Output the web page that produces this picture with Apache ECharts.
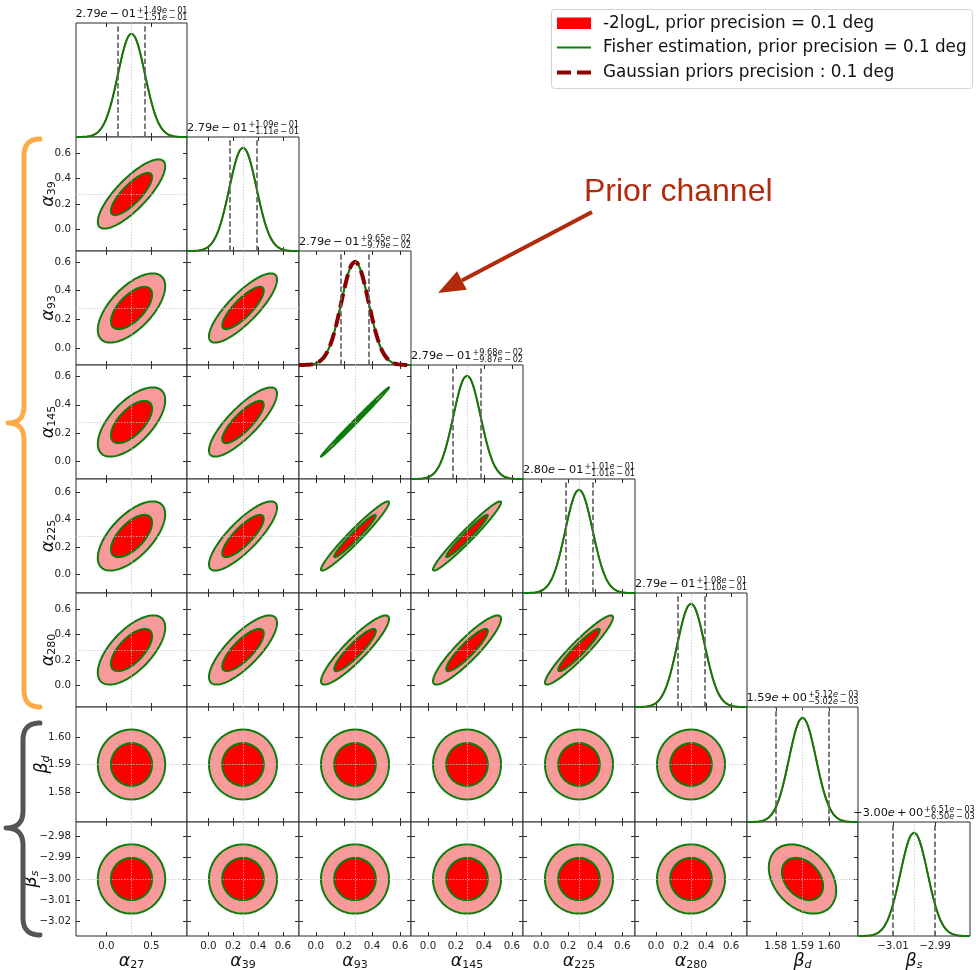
<!DOCTYPE html>
<html>
<head>
<meta charset="utf-8">
<script src="https://cdn.jsdelivr.net/npm/echarts@6/dist/echarts.min.js"></script>
<style>
  html, body { margin: 0; padding: 0; background: #fff; }
  #chart { width: 976px; height: 970px; }
</style>
</head>
<body>
<div id="chart"></div>
<script>
// ---- Parameters of the corner plot ----
const paramSymbols = ['α', 'α', 'α', 'α', 'α', 'α', 'β', 'β'];
const paramSubs = ['27', '39', '93', '145', '225', '280', 'd', 's'];
const subItalic = [false, false, false, false, false, false, true, true];

// Posterior medians and asymmetric 1-sigma errors
const medians  = [0.279, 0.279, 0.279, 0.279, 0.280, 0.279, 1.59, -3.00];
const errPlus  = [0.149, 0.109, 0.0965, 0.0968, 0.101, 0.108, 0.00512, 0.00651];
const errMinus = [0.151, 0.111, 0.0979, 0.0987, 0.101, 0.110, 0.00502, 0.00650];

// Fiducial values (dotted guide lines)
const truths = [0.28, 0.28, 0.28, 0.28, 0.28, 0.28, 1.59, -3.00];

// Correlation coefficients, lower triangle: row i holds corr(i, 0..i-1)
const corrRows = [
  [],
  [0.80],
  [0.63, 0.82],
  [0.63, 0.82, 0.997],
  [0.63, 0.82, 0.965, 0.97],
  [0.65, 0.78, 0.90, 0.90, 0.94],
  [0, 0, 0, 0, 0, 0],
  [0, 0, 0, 0, 0, 0, -0.33]
];

// Channel carrying the Gaussian prior
const priorChannel = 2;

// 2D contour radii in sigma units (68% and 95% for two parameters)
const contourRadii = [1.52, 2.49];

// Tick positions
const xTickValues = [
  [0, 0.5], [0, 0.2, 0.4, 0.6], [0, 0.2, 0.4, 0.6], [0, 0.2, 0.4, 0.6],
  [0, 0.2, 0.4, 0.6], [0, 0.2, 0.4, 0.6], [1.58, 1.59, 1.60], [-3.01, -2.99]
];
const yTickValues = [
  [0, 0.5], [0, 0.2, 0.4, 0.6], [0, 0.2, 0.4, 0.6], [0, 0.2, 0.4, 0.6],
  [0, 0.2, 0.4, 0.6], [0, 0.2, 0.4, 0.6], [1.58, 1.59, 1.60],
  [-3.02, -3.01, -3.00, -2.99, -2.98]
];
const tickDecimals = [1, 1, 1, 1, 1, 1, 2, 2];

// Legend and annotation texts
const legendLabels = [
  '-2logL, prior precision = 0.1 deg',
  'Fisher estimation, prior precision = 0.1 deg',
  'Gaussian priors precision : 0.1 deg'
];
const annotationText = 'Prior channel';

// ---- Layout ----
const N = 8;
const colEdges = Array.from({ length: N + 1 }, (_, k) => Math.round(75.6 + 111.84 * k));
const rowEdges = Array.from({ length: N + 1 }, (_, k) => Math.round(22.9 + 114.1 * k));
const yLabelX = [48, 48, 48, 48, 48, 48, 42, 31];
const RANGE_SIGMAS = 4.1;
const DIAG_MAX = 1.103;

const GREEN = '#0b7d0b';
const RED = '#ff0000';
const PINK = '#f99a9a';
const SPINE = '#2b2b2b';
const FONT = 'DejaVu Sans';

const sig = medians.map((_, k) => (errPlus[k] + errMinus[k]) / 2);
const lo = k => medians[k] - RANGE_SIGMAS * sig[k];
const hi = k => medians[k] + RANGE_SIGMAS * sig[k];

function tickFormatter(k) {
  return v => {
    const s = Math.abs(v).toFixed(tickDecimals[k]);
    return (v < 0 && Number(s) !== 0 ? '\u2212' : '') + s;
  };
}

const grid = [], xAxis = [], yAxis = [], series = [];

function valueAxis(gridIndex, position, min, max, ticks, labelFmt) {
  return {
    type: 'value', gridIndex, position, min, max,
    axisLine: { show: false, onZero: false },
    splitLine: { show: false },
    axisTick: ticks ? { show: true, inside: true, length: 4,
      lineStyle: { color: SPINE, width: 1 }, customValues: ticks } : { show: false },
    axisLabel: labelFmt ? {
      show: true, customValues: ticks, formatter: labelFmt, margin: 5,
      fontSize: 10.3, color: '#222', fontFamily: FONT
    } : { show: false }
  };
}

function gaussian(k, useAsym) {
  const pts = [];
  const n = 200;
  for (let q = 0; q <= n; q++) {
    const x = lo(k) + (hi(k) - lo(k)) * q / n;
    const s = useAsym ? (x < medians[k] ? errMinus[k] : errPlus[k]) : sig[k];
    pts.push([x, Math.exp(-0.5 * Math.pow((x - medians[k]) / s, 2))]);
  }
  return pts;
}

function addPanel(i, j) {
  const g = grid.length;
  grid.push({
    left: colEdges[j], top: rowEdges[i],
    width: colEdges[j + 1] - colEdges[j], height: rowEdges[i + 1] - rowEdges[i],
    show: true, borderColor: SPINE, borderWidth: 1, backgroundColor: '#fff',
    containLabel: false, outerBoundsMode: 'none'
  });
  const diag = i === j;
  const bottomLabels = i === N - 1 ? tickFormatter(j) : null;
  xAxis.push(valueAxis(g, 'bottom', lo(j), hi(j), xTickValues[j], bottomLabels));
  xAxis.push(valueAxis(g, 'top', lo(j), hi(j), xTickValues[j], null));
  if (diag) {
    yAxis.push(valueAxis(g, 'left', 0, DIAG_MAX, null, null));
    yAxis.push(valueAxis(g, 'right', 0, DIAG_MAX, null, null));
  } else {
    const leftLabels = j === 0 ? tickFormatter(i) : null;
    yAxis.push(valueAxis(g, 'left', lo(i), hi(i), yTickValues[i], leftLabels));
    yAxis.push(valueAxis(g, 'right', lo(i), hi(i), yTickValues[i], null));
  }
  const ax = { xAxisIndex: 2 * g, yAxisIndex: 2 * g };

  if (diag) {
    const k = i;
    series.push(Object.assign({
      type: 'line', data: gaussian(k, true), showSymbol: false, symbol: 'none',
      lineStyle: { color: RED, width: 1.6 }, silent: true, animation: false, z: 2
    }, ax));
    series.push(Object.assign({
      type: 'line', data: gaussian(k, false), showSymbol: false, symbol: 'none',
      lineStyle: { color: GREEN, width: 2 }, silent: true, animation: false, z: 3,
      markLine: {
        silent: true, symbol: ['none', 'none'], label: { show: false }, animation: false,
        data: [
          { xAxis: truths[k], lineStyle: { color: '#c4c4c4', width: 0.8, type: [1.5, 1.5] } },
          { xAxis: medians[k] - errMinus[k], lineStyle: { color: '#666', width: 1.7, type: [5.5, 2.6] } },
          { xAxis: medians[k] + errPlus[k], lineStyle: { color: '#666', width: 1.7, type: [5.5, 2.6] } }
        ]
      }
    }, ax));
    if (k === priorChannel) {
      series.push(Object.assign({
        type: 'line', data: gaussian(k, false), showSymbol: false, symbol: 'none',
        lineStyle: { color: '#8b0000', width: 4, type: [14, 6] }, silent: true, animation: false, z: 4
      }, ax));
    }
  } else {
    const rho = corrRows[i][j];
    const mx = medians[j], my = medians[i], sx = sig[j], sy = sig[i];
    series.push(Object.assign({
      type: 'custom', coordinateSystem: 'cartesian2d', data: [[mx, my]],
      silent: true, animation: false, z: 2,
      encode: { x: 0, y: 1 },
      renderItem: (params, api) => {
        const ring = r => {
          const pts = [];
          const n = 160;
          const c2 = Math.sqrt(1 - rho * rho);
          for (let q = 0; q < n; q++) {
            const t = 2 * Math.PI * q / n;
            const c = Math.cos(t), s = Math.sin(t);
            pts.push(api.coord([mx + r * sx * c, my + r * sy * (rho * c + c2 * s)]));
          }
          return pts;
        };
        const outer = ring(contourRadii[1]);
        const inner = ring(contourRadii[0]);
        return {
          type: 'group',
          children: [
            { type: 'polygon', shape: { points: outer }, style: { fill: PINK, stroke: null } },
            { type: 'polygon', shape: { points: inner }, style: { fill: RED, stroke: null } },
            { type: 'polygon', shape: { points: outer }, style: { fill: null, stroke: GREEN, lineWidth: 2 } },
            { type: 'polygon', shape: { points: inner }, style: { fill: null, stroke: GREEN, lineWidth: 2 } }
          ]
        };
      },
      markLine: {
        silent: true, symbol: ['none', 'none'], label: { show: false }, animation: false,
        lineStyle: { color: '#c4c4c4', width: 0.8, type: [1.5, 1.5] },
        data: [{ xAxis: truths[j] }, { yAxis: truths[i] }]
      }
    }, ax));
  }
}

for (let i = 0; i < N; i++) for (let j = 0; j <= i; j++) addPanel(i, j);

// ---- Text helpers ----
const measureCtx = document.createElement('canvas').getContext('2d');
function textWidth(t, size, italic) {
  measureCtx.font = (italic ? 'italic ' : '') + size + 'px "' + FONT + '"';
  return measureCtx.measureText(t).width;
}
function runText(pieces, left, y) {
  let x = left;
  const out = [];
  pieces.forEach(p => {
    out.push({
      type: 'text', x, y: y + (p.dy || 0), silent: true,
      style: {
        text: p.t, fontSize: p.size, fontFamily: FONT, fontStyle: p.italic ? 'italic' : 'normal',
        fill: p.color || '#111', align: 'left', verticalAlign: 'middle'
      }
    });
    x += textWidth(p.t, p.size, p.italic);
  });
  return { elements: out, width: x - left };
}
function runWidth(pieces) {
  return pieces.reduce((a, p) => a + textWidth(p.t, p.size, p.italic), 0);
}

function sciPieces(v, size, prefix) {
  const parts = v.toExponential(2).split('e');
  let mant = parts[0];
  const ex = parseInt(parts[1], 10);
  if (mant.startsWith('-')) mant = '\u2212' + mant.slice(1);
  const expTxt = '\u2009' + (ex < 0 ? '\u2212' : '+') + '\u2009' + String(Math.abs(ex)).padStart(2, '0');
  return [
    { t: (prefix || '') + mant, size },
    { t: 'e', size, italic: true },
    { t: expTxt, size }
  ];
}

const graphics = [];

// Titles above the diagonal panels
for (let k = 0; k < N; k++) {
  const main = sciPieces(medians[k], 11.3);
  const sup = sciPieces(errPlus[k], 8.2, '+');
  const sub = sciPieces(errMinus[k], 8.2, '\u2212');
  const wMain = runWidth(main);
  const wSide = Math.max(runWidth(sup), runWidth(sub));
  const total = wMain + 1 + wSide;
  const cx = (colEdges[k] + colEdges[k + 1]) / 2;
  const left = cx - total / 2;
  const top = rowEdges[k];
  graphics.push(...runText(main, left, top - 9).elements);
  graphics.push(...runText(sup, left + wMain + 1, top - 12).elements);
  graphics.push(...runText(sub, left + wMain + 1, top - 5).elements);
}

// Axis name labels
function mathLabel(k, cx, cy, rotate) {
  const pieces = [
    { t: paramSymbols[k], size: 17.5, italic: true, dy: 0 },
    { t: paramSubs[k], size: 11, italic: subItalic[k], dy: 4 }
  ];
  const w = runWidth(pieces);
  const r = runText(pieces, -w / 2, 0);
  graphics.push({ type: 'group', x: cx, y: cy, rotation: rotate ? Math.PI / 2 : 0, children: r.elements });
}
for (let k = 0; k < N; k++) {
  mathLabel(k, (colEdges[k] + colEdges[k + 1]) / 2, 961, false);
  if (k > 0) mathLabel(k, yLabelX[k], (rowEdges[k] + rowEdges[k + 1]) / 2, true);
}

// Legend
graphics.push({ type: 'rect', silent: true, shape: { x: 551.5, y: 9.5, width: 421, height: 79, r: 3 },
  style: { fill: '#fff', stroke: '#d4d4d4', lineWidth: 1 } });
graphics.push({ type: 'rect', silent: true, shape: { x: 557, y: 17.5, width: 34, height: 11.5 }, style: { fill: RED } });
graphics.push({ type: 'line', silent: true, shape: { x1: 557, y1: 47.5, x2: 591, y2: 47.5 }, style: { stroke: GREEN, lineWidth: 2 } });
graphics.push({ type: 'line', silent: true, shape: { x1: 557, y1: 72.5, x2: 591, y2: 72.5 },
  style: { stroke: '#8b0000', lineWidth: 4, lineDash: [14, 6] } });
[23.5, 47.5, 72.5].forEach((y, n) => {
  graphics.push({ type: 'text', silent: true, x: 603, y,
    style: { text: legendLabels[n], fontSize: 16.8, fontFamily: FONT, fill: '#111', align: 'left', verticalAlign: 'middle' } });
});

// Annotation with arrow
const ANN = '#b22a0c';
graphics.push({ type: 'text', silent: true, x: 584, y: 192,
  style: { text: annotationText, fontSize: 32, fontFamily: 'Liberation Sans', fill: ANN, align: 'left', verticalAlign: 'middle' } });
(function arrow() {
  const tip = [438, 293], start = [592, 212];
  const dx = start[0] - tip[0], dy = start[1] - tip[1];
  const len = Math.hypot(dx, dy);
  const ux = dx / len, uy = dy / len;
  const headLen = 27, halfW = 10.5;
  const bx = tip[0] + ux * headLen, by = tip[1] + uy * headLen;
  graphics.push({ type: 'line', silent: true, shape: { x1: start[0], y1: start[1], x2: bx, y2: by },
    style: { stroke: ANN, lineWidth: 4 } });
  graphics.push({ type: 'polygon', silent: true,
    shape: { points: [tip, [bx - uy * halfW, by + ux * halfW], [bx + uy * halfW, by - ux * halfW]] },
    style: { fill: ANN } });
})();

// Grouping braces on the left, built from quadratic corner pieces
function bracePoints(xTop, xSpine, xTip, yTop, yMid, yBot, bend) {
  const pts = [];
  const quad = (p0, c, p1) => {
    for (let q = 0; q <= 12; q++) {
      const t = q / 12, a = (1 - t) * (1 - t), b = 2 * (1 - t) * t, d = t * t;
      pts.push([a * p0[0] + b * c[0] + d * p1[0], a * p0[1] + b * c[1] + d * p1[1]]);
    }
  };
  quad([xTop, yTop], [xSpine, yTop], [xSpine, yTop + bend]);
  quad([xSpine, yMid - bend], [xSpine, yMid], [xTip, yMid]);
  quad([xTip, yMid], [xSpine, yMid], [xSpine, yMid + bend]);
  quad([xSpine, yBot - bend], [xSpine, yBot], [xTop, yBot]);
  return pts;
}
graphics.push({ type: 'polyline', silent: true,
  shape: { points: bracePoints(40, 24, 8, 139, 423, 707, 17) },
  style: { fill: null, stroke: '#fdaa48', lineWidth: 5, lineCap: 'round', lineJoin: 'round' } });
graphics.push({ type: 'polyline', silent: true,
  shape: { points: bracePoints(40, 23, 6, 723, 828, 935, 17) },
  style: { fill: null, stroke: '#555555', lineWidth: 5, lineCap: 'round', lineJoin: 'round' } });

const chart = echarts.init(document.getElementById('chart'), null, { renderer: 'canvas' });
chart.setOption({
  backgroundColor: '#ffffff',
  animation: false,
  grid, xAxis, yAxis, series,
  graphic: { elements: graphics }
});
</script>
</body>
</html>
